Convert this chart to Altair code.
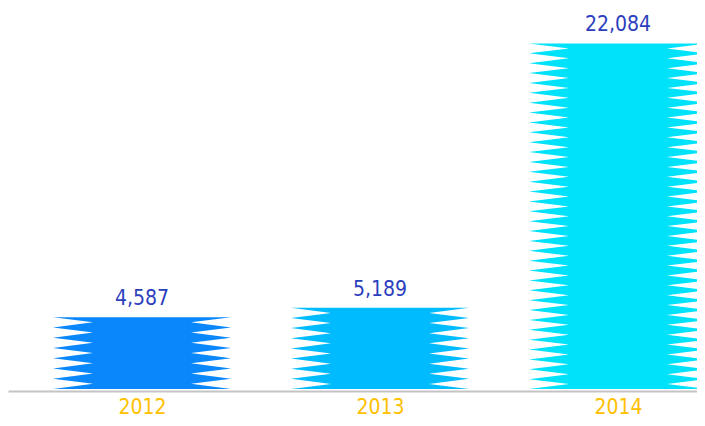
import altair as alt
import pandas as pd

years = ["2012", "2013", "2014"]
values = [4587, 5189, 22084]
bar_colors = ["#0A87FA", "#00BBFD", "#00E1FA"]

# layout constants (pixels)
SVG_W = 689
SVG_H = 410
PLOT_W = 689
PLOT_H = 381
Y_MAX = 24353
STEP_PX = 238
FIRST_CENTER_PX = 134
HALF_OUTER_PX = 89
HALF_INNER_PX = 49
TOOTH_PX = 10

px_per_unit = PLOT_H / Y_MAX
x_lo = -FIRST_CENTER_PX / STEP_PX
x_hi = (PLOT_W - FIRST_CENTER_PX) / STEP_PX
half_outer = HALF_OUTER_PX / STEP_PX
half_inner = HALF_INNER_PX / STEP_PX

# serrated bar outlines built from the values
rows = []
for i, (yr, v) in enumerate(zip(years, values)):
    n = max(1, round(v * px_per_unit / TOOTH_PX))
    for k in range(2 * n + 1):
        h = half_outer if k % 2 == 0 else half_inner
        rows.append({"year": yr, "k": k, "y": v * k / (2 * n), "xl": i - h, "xr": i + h})
outline = pd.DataFrame(rows)

labels = pd.DataFrame({"year": years, "idx": list(range(len(years))), "value": values})

label_expr = "[" + ",".join("'%s'" % y for y in years) + "][datum.value]"

x_scale = alt.Scale(domain=[x_lo, x_hi], nice=False, zero=False)
y_scale = alt.Scale(domain=[0, Y_MAX], nice=False)

bars = alt.Chart(outline).mark_area(orient="horizontal", interpolate="linear").encode(
    y=alt.Y("y:Q", scale=y_scale, axis=None),
    x=alt.X("xl:Q", scale=x_scale, stack=None,
            axis=alt.Axis(values=list(range(len(years))), labelExpr=label_expr, title=None,
                          ticks=False, grid=False, domainColor="#C4C4C4", domainWidth=2,
                          offset=2, labelColor="#FFC000", labelFont="DejaVu Sans Condensed",
                          labelFontSize=21, labelBaseline="alphabetic", labelPadding=22)),
    x2="xr:Q",
    color=alt.Color("year:N", scale=alt.Scale(domain=years, range=bar_colors), legend=None),
)

texts = alt.Chart(labels).mark_text(
    baseline="alphabetic", dy=-12, color="#2B3EBE", font="DejaVu Sans Condensed", fontSize=21
).encode(
    x=alt.X("idx:Q", scale=x_scale),
    y=alt.Y("value:Q", scale=y_scale),
    text=alt.Text("value:Q", format=","),
)

chart = alt.layer(bars, texts).properties(
    width=PLOT_W, height=PLOT_H,
    autosize=alt.AutoSizeParams(type="none"),
    padding={"left": 0, "top": 0, "right": SVG_W - PLOT_W, "bottom": SVG_H - PLOT_H},
).configure_view(stroke=None)

chart.save("out.html", embed_options={"renderer": "svg", "actions": False})
